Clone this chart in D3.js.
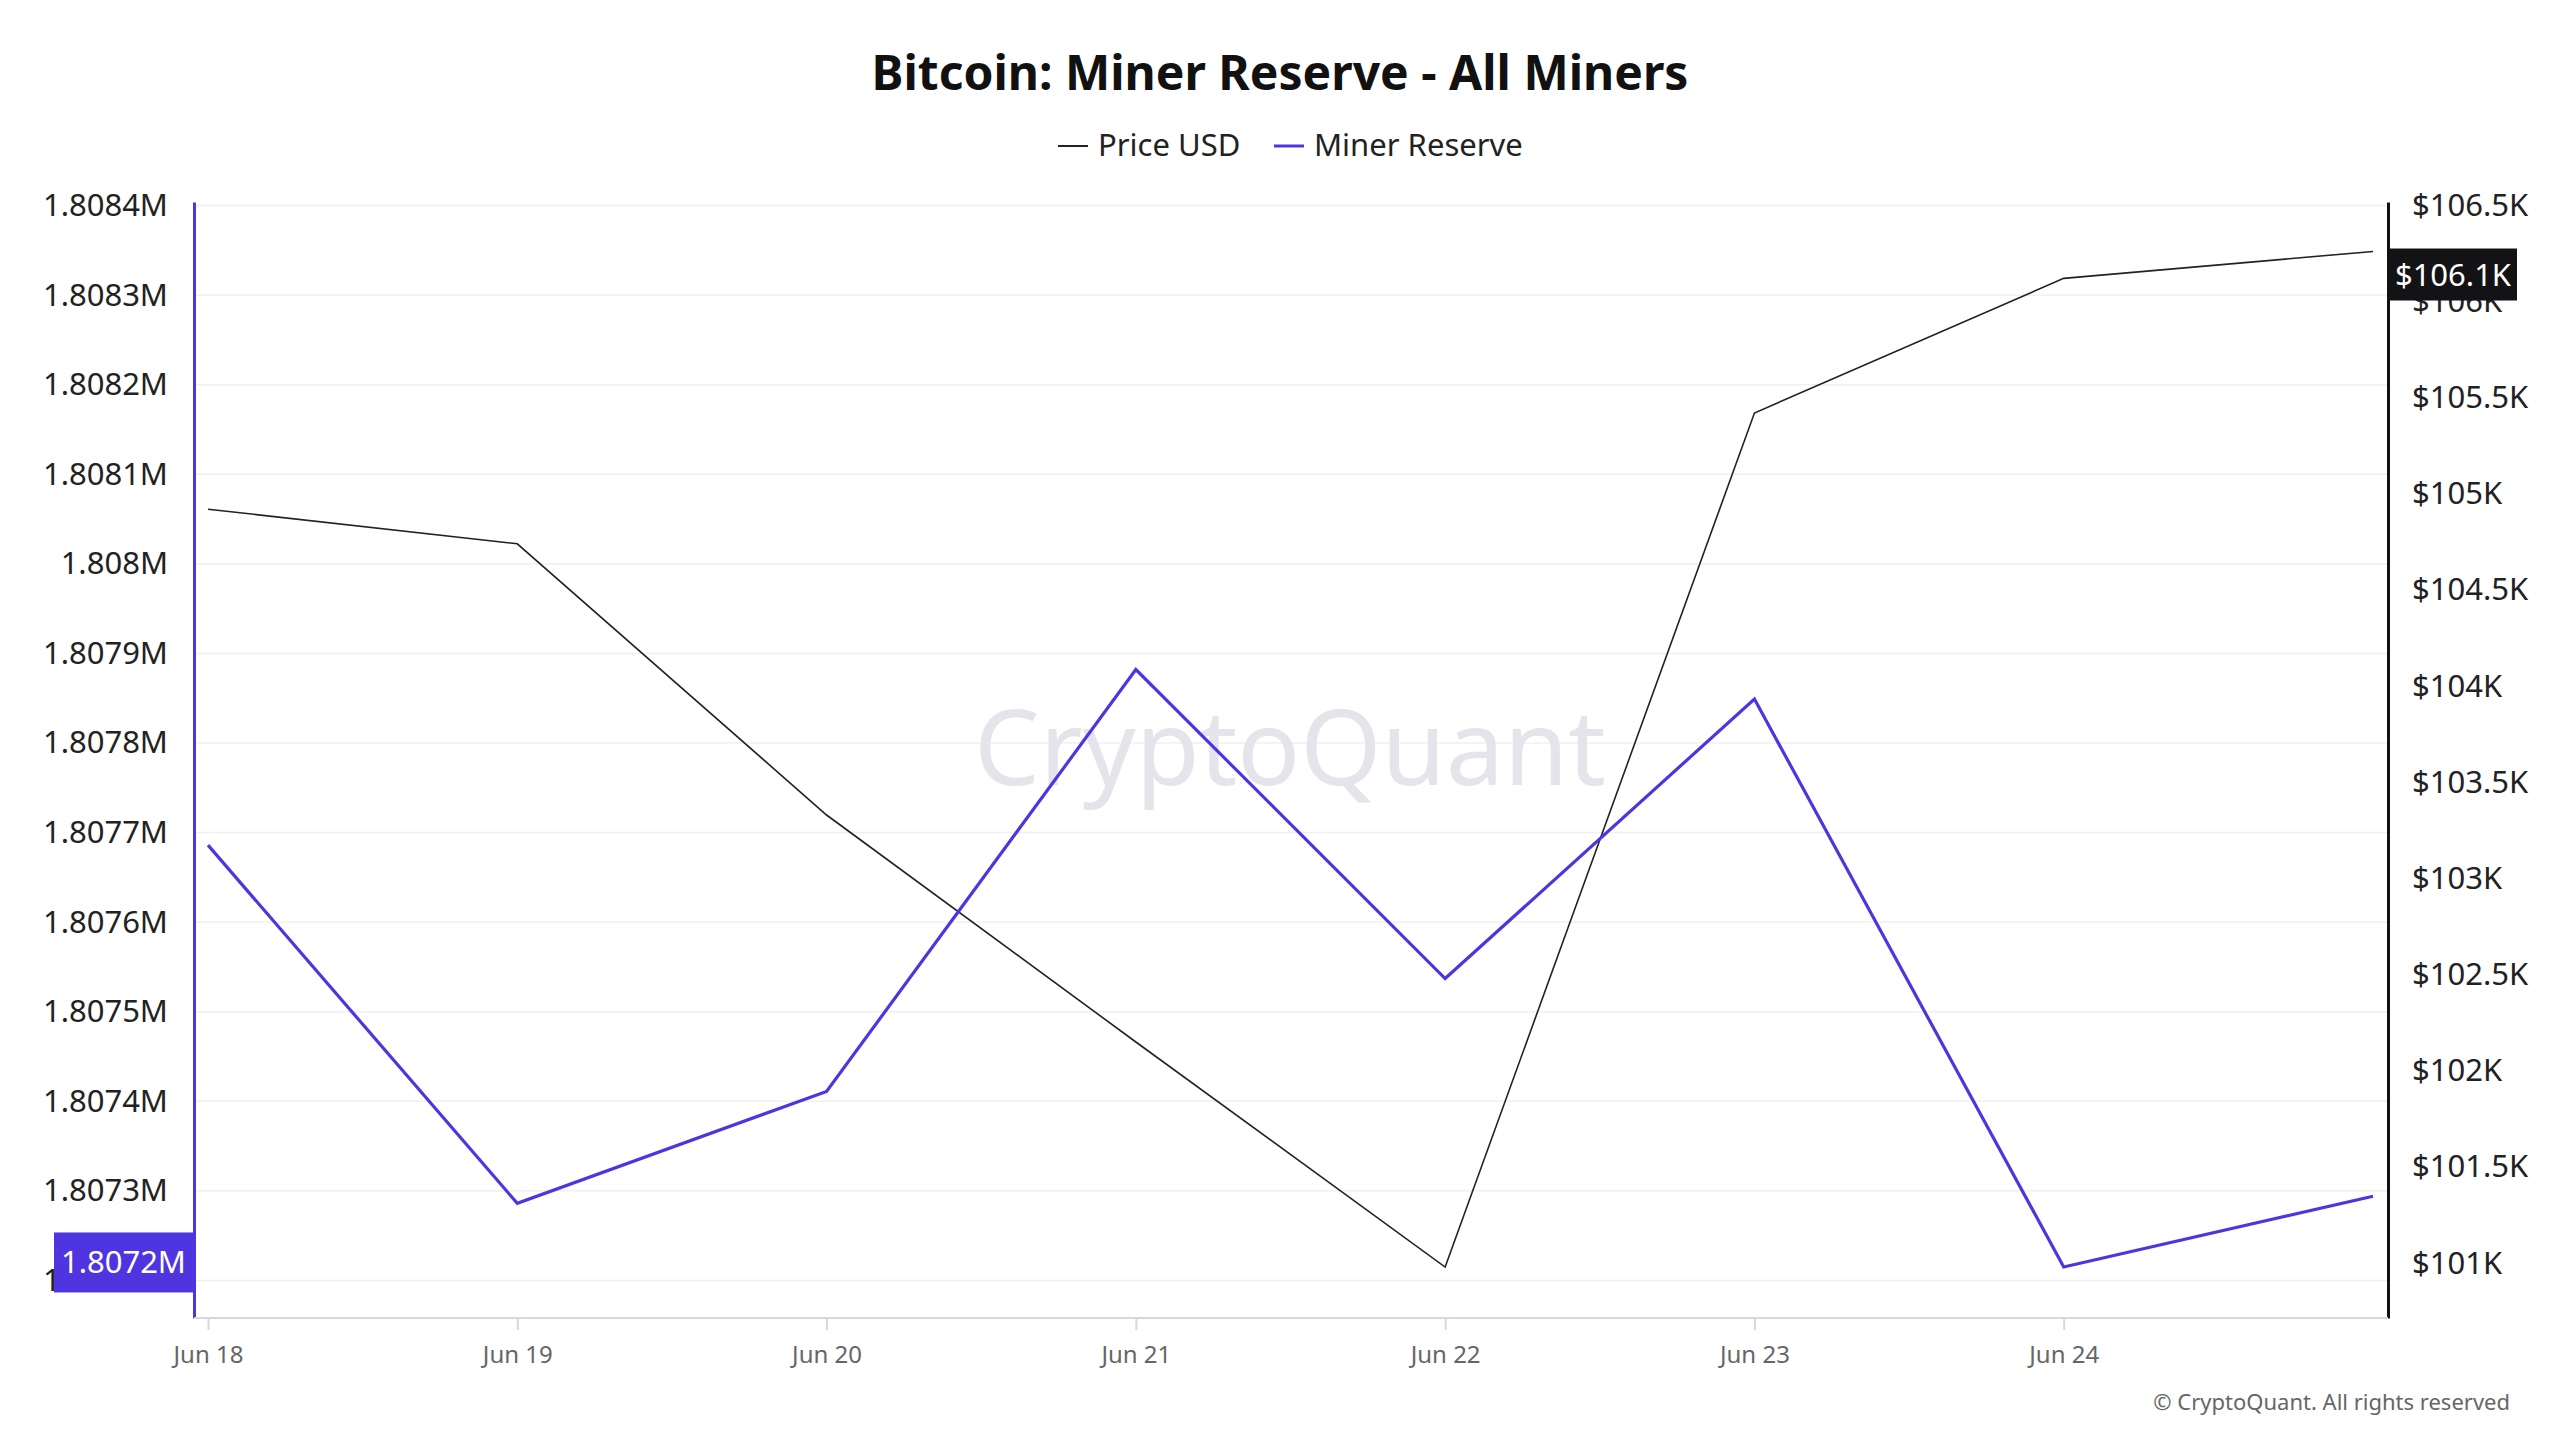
<!DOCTYPE html>
<html><head><meta charset="utf-8">
<script src="https://cdn.jsdelivr.net/npm/d3@7"></script>
<style>
body{margin:0;background:#fff;font-family:"Noto Sans","Open Sans",sans-serif;}
</style></head>
<body><svg id="chart" width="2560" height="1440"></svg>
<script>
const dates = ["Jun 18","Jun 19","Jun 20","Jun 21","Jun 22","Jun 23","Jun 24","Jun 25"];
const xLabels = ["Jun 18","Jun 19","Jun 20","Jun 21","Jun 22","Jun 23","Jun 24"];
const minerReserve = [1.807686,1.807286,1.807411,1.807882,1.807537,1.807849,1.807215,1.807294];
const priceK = [104.92,104.74,103.33,102.15,100.98,105.42,106.12,106.26];
const leftTicks = [1.8072,1.8073,1.8074,1.8075,1.8076,1.8077,1.8078,1.8079,1.808,1.8081,1.8082,1.8083,1.8084];
const rightTicks = [101,101.5,102,102.5,103,103.5,104,104.5,105,105.5,106,106.5];
const leftMarker = {value:1.80722, text:"1.8072M"};
const rightMarker = {value:106.14, text:"$106.1K"};

const svg = d3.select("#chart");
const L = 194, R = 2388, T = 202, B = 1318;
const x = d3.scalePoint().domain(dates).range([208, 2373]);
const yL = d3.scaleLinear().domain([1.807158, 1.808404]).range([B, T]);
const yR = d3.scaleLinear().domain([100.715, 106.517]).range([B, T]);
const purple = "#4f35e0";

// title and legend
svg.append("text").attr("x",1280).attr("y",90).attr("text-anchor","middle")
  .attr("font-size",48).attr("font-weight",700).attr("fill","#111").text("Bitcoin: Miner Reserve - All Miners");
const leg = svg.append("g").attr("font-size",31).attr("fill","#222");
leg.append("line").attr("x1",1058).attr("x2",1088).attr("y1",146).attr("y2",146).attr("stroke","#222").attr("stroke-width",2);
leg.append("text").attr("x",1098).attr("y",156).text("Price USD");
leg.append("line").attr("x1",1274).attr("x2",1304).attr("y1",146).attr("y2",146).attr("stroke",purple).attr("stroke-width",3);
leg.append("text").attr("x",1314).attr("y",156).text("Miner Reserve");

// grid
svg.append("g").selectAll("line").data(leftTicks).join("line")
  .attr("x1",L).attr("x2",R).attr("y1",d=>yL(d)).attr("y2",d=>yL(d))
  .attr("stroke","#f0f0f0").attr("stroke-width",1.5);

// watermark
svg.append("text").attr("x",1290).attr("y",785).attr("text-anchor","middle")
  .attr("font-size",104).attr("fill","#e4e4ea").text("CryptoQuant");

// left axis
const la = svg.append("g").attr("transform",`translate(${L},0)`)
  .call(d3.axisLeft(yL).tickValues(leftTicks).tickSize(0).tickPadding(26).tickFormat(d=>d3.format(".4~f")(d)+"M"));
la.select(".domain").attr("stroke",purple).attr("stroke-width",3);
la.selectAll("text").attr("font-size",31).attr("fill","#222").attr("font-family","Noto Sans, sans-serif");

// right axis
const ra = svg.append("g").attr("transform",`translate(${R},0)`)
  .call(d3.axisRight(yR).tickValues(rightTicks).tickSize(0).tickPadding(24).tickFormat(d=>"$"+d3.format("~f")(d)+"K"));
ra.select(".domain").attr("stroke","#111").attr("stroke-width",3);
ra.selectAll("text").attr("font-size",31).attr("fill","#222").attr("font-family","Noto Sans, sans-serif");

// bottom axis
const xa = svg.append("g").attr("transform",`translate(0,${B})`)
  .call(d3.axisBottom(x).tickValues(xLabels).tickSize(12).tickPadding(16));
xa.select(".domain").attr("d",`M${L},0H${R}`).attr("stroke","#d5d8e0").attr("stroke-width",2);
xa.selectAll(".tick line").attr("stroke","#d5d8e0").attr("stroke-width",2);
xa.selectAll("text").attr("font-size",24).attr("fill","#666").attr("font-family","Noto Sans, sans-serif");

// lines
svg.append("path").datum(priceK).attr("fill","none").attr("stroke","#222").attr("stroke-width",1.6)
  .attr("d",d3.line().x((d,i)=>x(dates[i])).y(d=>yR(d)));
svg.append("path").datum(minerReserve).attr("fill","none").attr("stroke",purple).attr("stroke-width",3.2)
  .attr("d",d3.line().x((d,i)=>x(dates[i])).y(d=>yL(d)));

// markers
const ly = yL(leftMarker.value);
svg.append("rect").attr("x",54).attr("y",ly-30).attr("width",L-54).attr("height",60).attr("fill",purple);
svg.append("text").attr("x",L-8).attr("y",ly+11).attr("text-anchor","end").attr("font-size",31).attr("fill","#fff").text(leftMarker.text);
const ry = yR(rightMarker.value);
svg.append("rect").attr("x",R+1).attr("y",ry-26).attr("width",128).attr("height",52).attr("fill","#131316");
svg.append("text").attr("x",R+65).attr("y",ry+11).attr("text-anchor","middle").attr("font-size",31).attr("fill","#fff").text(rightMarker.text);

svg.append("text").attr("x",2510).attr("y",1410).attr("text-anchor","end").attr("font-size",22).attr("fill","#666")
  .text("© CryptoQuant. All rights reserved");
</script></body></html>
